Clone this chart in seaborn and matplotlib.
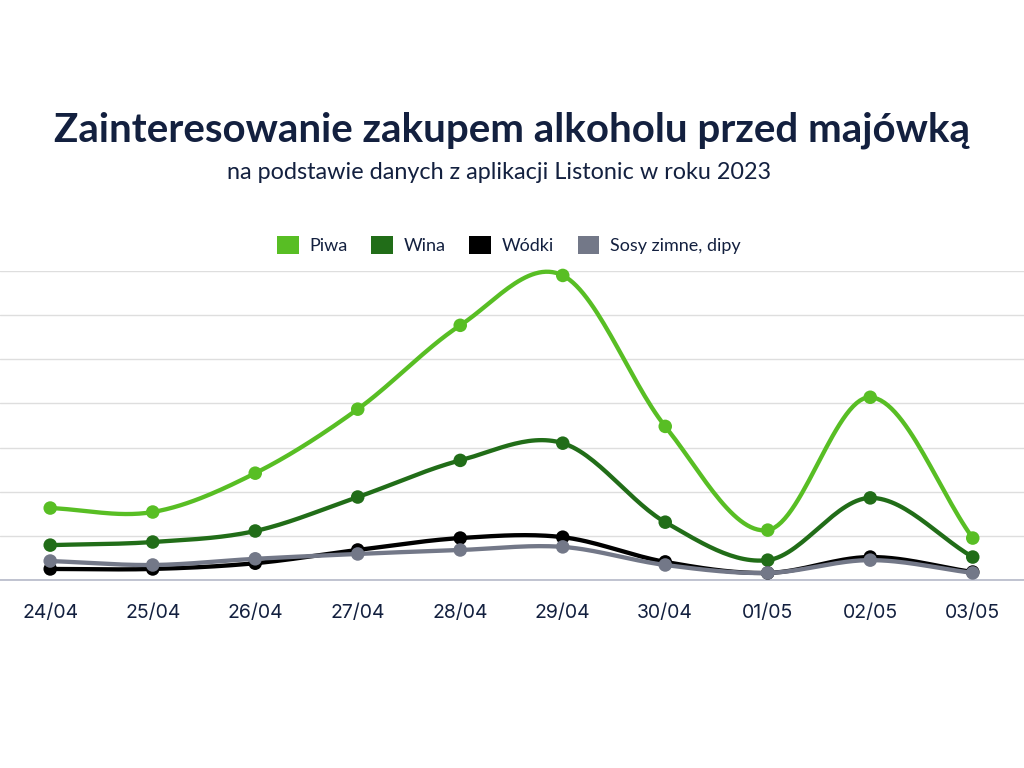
import numpy as np
import pandas as pd
import matplotlib
matplotlib.use("Agg")
import matplotlib.pyplot as plt
from matplotlib.patches import Patch
import seaborn as sns

# Data
dates = ["24/04", "25/04", "26/04", "27/04", "28/04", "29/04", "30/04", "01/05", "02/05", "03/05"]
piwa = [16.3, 15.4, 24.2, 38.7, 57.7, 69.0, 34.8, 11.3, 41.4, 9.5]
wina = [7.9, 8.6, 11.1, 18.8, 27.1, 31.0, 13.1, 4.5, 18.6, 5.2]
wodki = [2.5, 2.5, 3.8, 6.8, 9.5, 9.7, 4.1, 1.6, 5.2, 1.8]
sosy = [4.3, 3.4, 4.8, 5.9, 6.8, 7.5, 3.4, 1.6, 4.5, 1.6]

series_names = ["Piwa", "Wina", "Wódki", "Sosy zimne, dipy"]
series_values = [piwa, wina, wodki, sosy]
colors = ["#58BE24", "#216D18", "#000000", "#737888"]
navy = "#13203F"

# Long table for the points
rows = []
for name, vals in zip(series_names, series_values):
    for i, v in enumerate(vals):
        rows.append({"idx": i, "value": v, "series": name})
df = pd.DataFrame(rows)


def smooth_curve(y, n=30, tension=0.5):
    # cubic hermite (cardinal spline) through the points, only for drawing
    y = np.asarray(y, dtype=float)
    x = np.arange(len(y), dtype=float)
    m = np.zeros_like(y)
    m[1:-1] = tension * (y[2:] - y[:-2])
    m[0] = y[1] - y[0]
    m[-1] = y[-1] - y[-2]
    xs, ys = [], []
    for i in range(len(y) - 1):
        t = np.linspace(0, 1, n, endpoint=(i == len(y) - 2))
        h00 = 2 * t**3 - 3 * t**2 + 1
        h10 = t**3 - 2 * t**2 + t
        h01 = -2 * t**3 + 3 * t**2
        h11 = t**3 - t**2
        xs.append(x[i] + t)
        ys.append(h00 * y[i] + h10 * m[i] + h01 * y[i + 1] + h11 * m[i + 1])
    return np.concatenate(xs), np.concatenate(ys)


sns.set_theme(style="white")
plt.rcParams["font.family"] = ["Lato", "DejaVu Sans"]

fig = plt.figure(figsize=(10.24, 7.68), dpi=100)
ax = fig.add_axes([0.0, 0.2448, 1.0, 0.4023])

for k, (name, vals, col) in enumerate(zip(series_names, series_values, colors)):
    xs, ys = smooth_curve(vals)
    ax.plot(xs, ys, color=col, lw=3.1, zorder=3 + k, solid_capstyle="round", clip_on=False)
    sub = df[df["series"] == name]
    sns.scatterplot(data=sub, x="idx", y="value", color=col, s=95,
                    edgecolor="none", ax=ax, zorder=3 + k, legend=False, clip_on=False)

ax.set_xlim(-0.49, 9.5)
ax.set_ylim(0, 70)
ax.set_yticks(np.arange(0, 71, 10))
ax.set_yticklabels([])
ax.tick_params(axis="y", length=0)
ax.set_xticks(range(len(dates)))
ax.set_xticklabels(dates, fontsize=14, color=navy, fontfamily=["Inter", "DejaVu Sans"])
ax.tick_params(axis="x", length=0, pad=17)
ax.set_xlabel("")
ax.set_ylabel("")
ax.grid(axis="y", color="#DEDEDE", lw=1)
ax.grid(axis="x", visible=False)
for s in ["top", "left", "right"]:
    ax.spines[s].set_visible(False)
ax.spines["bottom"].set_color("#B5B9C8")
ax.spines["bottom"].set_linewidth(1.2)
ax.set_zorder(1)

fig.text(0.5, 0.830, "Zainteresowanie zakupem alkoholu przed majówką",
         ha="center", va="center", fontsize=29, fontweight="bold", color=navy)
fig.text(0.487, 0.776, "na podstawie danych z aplikacji Listonic w roku 2023",
         ha="center", va="center", fontsize=16.8, color=navy)

handles = [Patch(facecolor=c, edgecolor="none") for c in colors]
fig.legend(handles, series_names, loc="center", bbox_to_anchor=(0.497, 0.681),
           ncol=4, frameon=False, fontsize=13, handlelength=1.2, handleheight=1.2,
           handletextpad=0.6, columnspacing=1.3, labelcolor=navy)

fig.savefig("out.png", dpi=100, facecolor="white")
